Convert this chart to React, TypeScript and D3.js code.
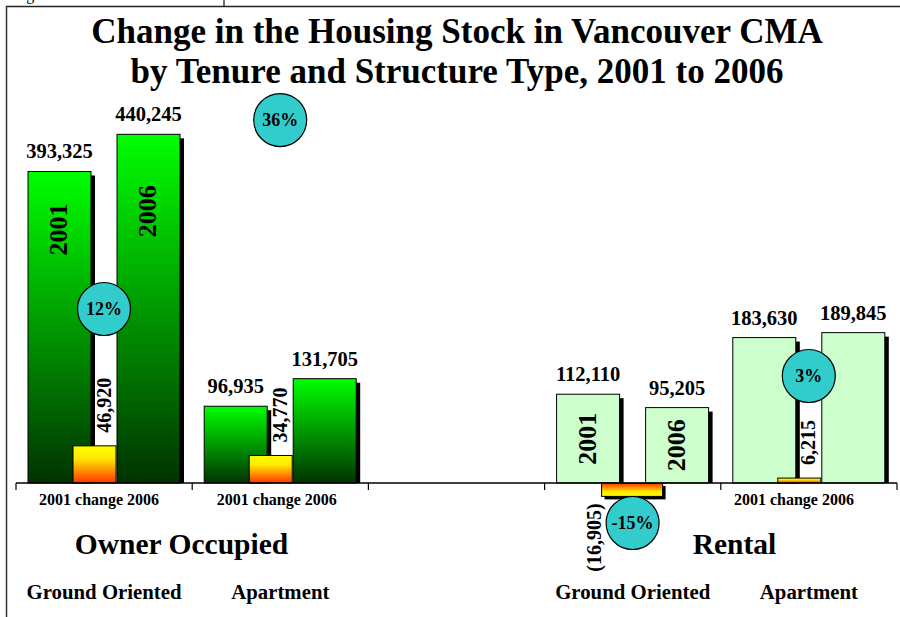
import React from "react";
import * as d3 from "d3";

// ---- data ----
const slots = ["ownerGround", "ownerApt", "gap", "rentalGround", "rentalApt"];
const tenureOfSlot = ["owner", "owner", "", "rental", "rental"];
const structureLabels = ["Ground Oriented", "Apartment", "", "Ground Oriented", "Apartment"];
const values2001: (number | null)[] = [393325, 96935, null, 112110, 183630];
const values2006: (number | null)[] = [440245, 131705, null, 95205, 189845];
const changes: (number | null)[] = [46920, 34770, null, -16905, 6215];
const pctLabels: (string | null)[] = ["12%", "36%", null, "-15%", "3%"];
const categoryLabel = "2001 change 2006";
const showCategoryLabel = [true, true, false, false, true];
// annotation anchors, in housing-unit (value) terms
const badgeAt: (number | null)[] = [219700, 458300, null, -50500, 135100];
const yearLabel2001At: (number | null)[] = [320000, null, null, 56000, null];
const yearLabel2006At: (number | null)[] = [343000, null, null, 47600, null];
const tenureLabels = ["Owner Occupied", "Rental"];
const titleLines = [
  "Change in the Housing Stock in Vancouver CMA",
  "by Tenure and Structure Type, 2001 to 2006",
];
const yMax = 500000;

// ---- layout ----
const W = 900;
const H = 617;
const FONT = "'Liberation Serif', 'Times New Roman', serif";
const catShift = [-5, -3.5, 0, 0, -15];
const tenureX = [181.5, 734.5];

export default function App() {
  const x = d3.scaleBand<string>().domain(slots).range([16, 897]).paddingInner(0).paddingOuter(0);
  const y = d3.scaleLinear().domain([0, yMax]).range([483, 87]);
  const bw = 63;
  const fmt = d3.format(",");
  const fmtChange = d3.format("(,");
  const boundaries = [...slots.map((s) => x(s) as number), 897];
  const y0 = y(0);

  const bars: React.ReactNode[] = [];
  const overlays: React.ReactNode[] = [];

  slots.forEach((s, i) => {
    const b = x(s) as number;
    const v1 = values2001[i];
    const v2 = values2006[i];
    const ch = changes[i];
    if (v1 == null || v2 == null || ch == null) return;
    const rental = tenureOfSlot[i] === "rental";
    const fill = rental ? "#CCFFCC" : "url(#ownerGrad)";
    const drawBar = (x0: number, v: number, key: string) => {
      const top = y(v);
      bars.push(
        <g key={key}>
          <rect x={x0 + 4} y={top + 4} width={bw} height={y0 - top - 4} fill="#000" />
          <rect x={x0} y={top} width={bw} height={y0 - top} fill={fill} stroke="#000" strokeWidth={1} />
          <text x={x0 + bw / 2} y={top - 13} textAnchor="middle" fontSize={20.5} fontWeight="bold" fontFamily={FONT}>
            {fmt(v)}
          </text>
        </g>
      );
    };
    drawBar(b + 12, v1, `b1-${i}`);
    // change bar
    const cx0 = b + 57;
    const cw = ch < 0 ? 61 : 43;
    const cTop = Math.min(y(ch), y0);
    const cH = Math.abs(y(ch) - y0);
    bars.push(
      <g key={`c-${i}`}>
        {ch < 0 && <rect x={cx0 + 3} y={cTop + 3} width={cw} height={cH} fill="#000" />}
        <rect
          x={cx0}
          y={cTop}
          width={cw}
          height={cH}
          fill={ch < 0 ? "url(#negGrad)" : "url(#posGrad)"}
          stroke="#000"
          strokeWidth={1}
        />
      </g>
    );
    drawBar(b + 101, v2, `b2-${i}`);

    // change label
    if (ch >= 0) {
      const lx = b + 88;
      const ly = y(ch) - 13;
      overlays.push(
        <text
          key={`cl-${i}`}
          transform={`translate(${lx},${ly}) rotate(-90)`}
          dy="0.33em"
          textAnchor="start"
          fontSize={20}
          fontWeight="bold"
          fontFamily={FONT}
        >
          {fmtChange(ch)}
        </text>
      );
    } else {
      const lx = b + 50;
      const ly = y(ch) + 7;
      overlays.push(
        <text
          key={`cl-${i}`}
          transform={`translate(${lx},${ly}) rotate(-90)`}
          dy="0.33em"
          textAnchor="end"
          fontSize={20}
          fontWeight="bold"
          fontFamily={FONT}
        >
          {fmtChange(ch)}
        </text>
      );
    }

    // year labels inside bars
    const yl = [
      [yearLabel2001At[i], b + 12 + bw / 2, "2001"],
      [yearLabel2006At[i], b + 101 + bw / 2, "2006"],
    ] as [number | null, number, string][];
    yl.forEach(([at, cx, txt]) => {
      if (at == null) return;
      overlays.push(
        <text
          key={`yl-${i}-${txt}`}
          transform={`translate(${cx},${y(at)}) rotate(-90)`}
          dy="0.3em"
          textAnchor="middle"
          fontSize={26}
          fontWeight="bold"
          fontFamily={FONT}
        >
          {txt}
        </text>
      );
    });

    // badge
    const ba = badgeAt[i];
    if (ba != null) {
      overlays.push(
        <g key={`bd-${i}`}>
          <circle cx={b + 88} cy={y(ba)} r={26.5} fill="#33CCCC" stroke="#000" strokeWidth={1.2} />
          <text
            x={b + 88}
            y={y(ba)}
            dy="0.35em"
            textAnchor="middle"
            fontSize={18}
            fontWeight="bold"
            fontFamily={FONT}
          >
            {pctLabels[i]}
          </text>
        </g>
      );
    }
  });

  return (
    <svg
      width={W}
      height={H}
      style={{ position: "absolute", left: 0, top: 0, background: "#fff" }}
      fontFamily={FONT}
    >
      <defs>
        <linearGradient id="ownerGrad" x1="0" y1="0" x2="0" y2="1">
          <stop offset="0%" stopColor="#00FF00" />
          <stop offset="100%" stopColor="#003300" />
        </linearGradient>
        <linearGradient id="posGrad" x1="0" y1="0" x2="0" y2="1">
          <stop offset="0%" stopColor="#FFFF00" />
          <stop offset="35%" stopColor="#FFE800" />
          <stop offset="100%" stopColor="#FF3300" />
        </linearGradient>
        <linearGradient id="negGrad" x1="0" y1="0" x2="0" y2="1">
          <stop offset="0%" stopColor="#FF3300" />
          <stop offset="65%" stopColor="#FFE800" />
          <stop offset="100%" stopColor="#FFFF00" />
        </linearGradient>
      </defs>
      <rect x={0} y={0} width={W} height={H} fill="#fff" />
      {/* page frame fragments */}
      <text x={13} y={-0.5} fontSize={16} fontFamily={FONT}>
        Figure 3
      </text>
      <line x1={224} y1={0} x2={224} y2={6} stroke="#222" strokeWidth={1.3} />
      <line x1={6} y1={6.5} x2={900} y2={6.5} stroke="#222" strokeWidth={1.5} />
      <line x1={6.5} y1={6} x2={6.5} y2={617} stroke="#333" strokeWidth={1.5} />

      {/* title */}
      {titleLines.map((t, i) => (
        <text
          key={t}
          x={457}
          y={43 + i * 40}
          textAnchor="middle"
          fontSize={35}
          fontWeight="bold"
          fontFamily={FONT}
        >
          {t}
        </text>
      ))}

      {bars}

      {/* axis */}
      <line x1={16} y1={y0} x2={897} y2={y0} stroke="#000" strokeWidth={1.5} />
      {boundaries.map((bx, i) => (
        <line key={`t-${i}`} x1={bx} y1={y0} x2={bx} y2={y0 + 7} stroke="#000" strokeWidth={1.2} />
      ))}

      {overlays}

      {/* category labels */}
      {slots.map((s, i) =>
        showCategoryLabel[i] ? (
          <text
            key={`cat-${s}`}
            x={(x(s) as number) + x.bandwidth() / 2 + catShift[i]}
            y={505}
            textAnchor="middle"
            fontSize={16}
            fontWeight="bold"
            fontFamily={FONT}
          >
            {categoryLabel}
          </text>
        ) : null
      )}

      {tenureLabels.map((t, i) => (
        <text key={t} x={tenureX[i]} y={554} textAnchor="middle" fontSize={29.5} fontWeight="bold" fontFamily={FONT}>
          {t}
        </text>
      ))}

      {slots.map((s, i) =>
        structureLabels[i] ? (
          <text
            key={`st-${s}`}
            x={(x(s) as number) + x.bandwidth() / 2}
            y={599}
            textAnchor="middle"
            fontSize={20.8}
            fontWeight="bold"
            fontFamily={FONT}
          >
            {structureLabels[i]}
          </text>
        ) : null
      )}
    </svg>
  );
}
